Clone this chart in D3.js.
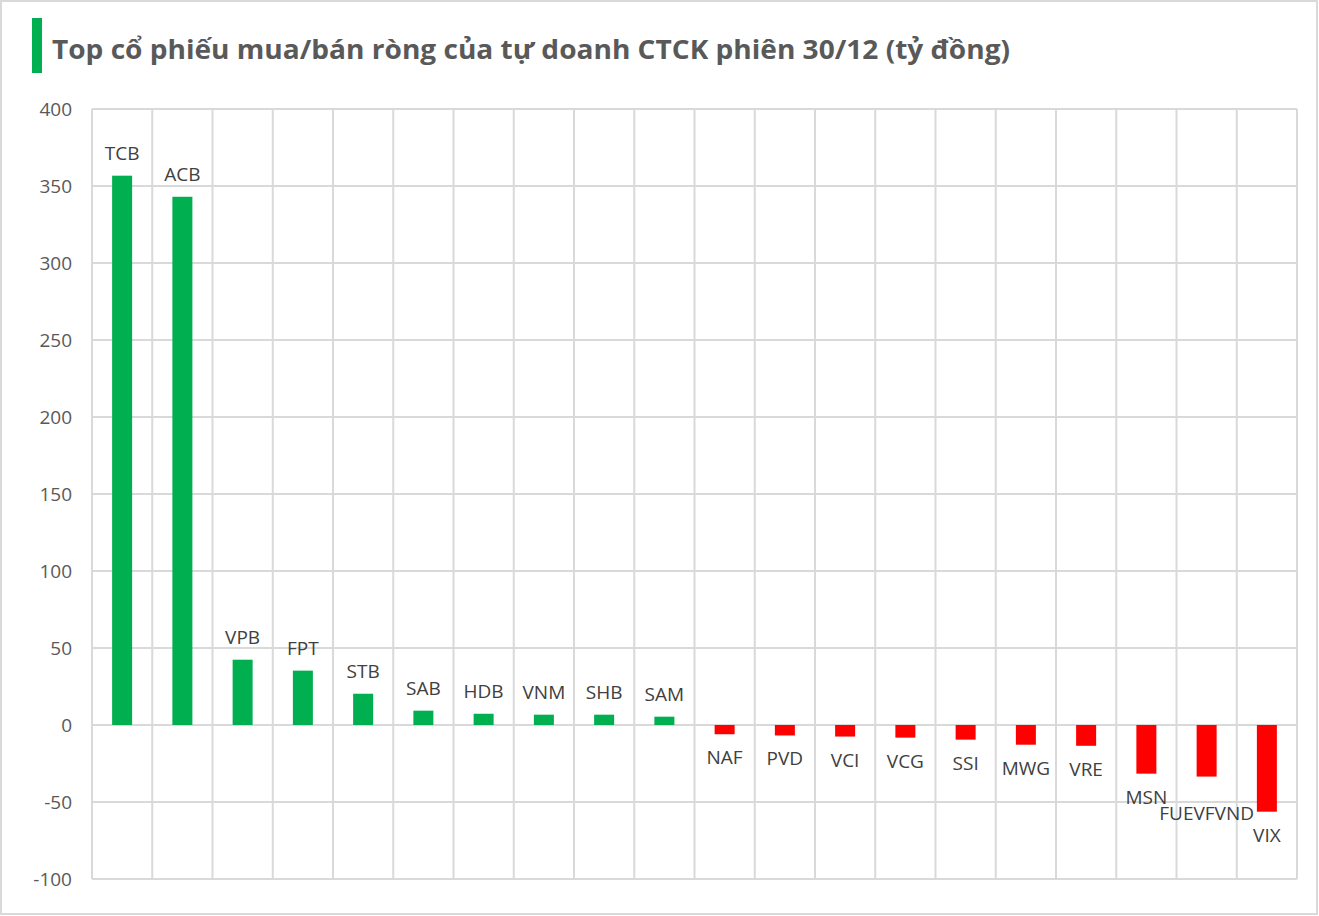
<!DOCTYPE html>
<html>
<head>
<meta charset="utf-8">
<script src="https://cdn.jsdelivr.net/npm/d3@7"></script>
<style>
  html, body { margin: 0; padding: 0; background: #fff; }
  svg { display: block; }
</style>
</head>
<body>
<div class="svg-container"></div>
<script>
const tickers = ["TCB", "ACB", "VPB", "FPT", "STB", "SAB", "HDB", "VNM", "SHB", "SAM",
                 "NAF", "PVD", "VCI", "VCG", "SSI", "MWG", "VRE", "MSN", "FUEVFVND", "VIX"];
const netValues = [356.7, 343, 42.4, 35.3, 20.3, 9.3, 7.3, 6.7, 6.7, 5.4,
                   -6, -6.8, -7.5, -8.2, -9.5, -12.8, -13.5, -31.6, -33.5, -56.3];
const yTicks = [-100, -50, 0, 50, 100, 150, 200, 250, 300, 350, 400];
const titleText = "Top cổ phiếu mua/bán ròng của tự doanh CTCK phiên 30/12 (tỷ đồng)";

function drawChart() {
    const width = 1319;
    const height = 916;
    // plot area
    const left = 92, right = 1297, top = 109, bottom = 879;

    const data = tickers.map((t, i) => ({ name: t, value: netValues[i] }));

    const svg = d3.select(".svg-container").append("svg")
        .attr("width", width)
        .attr("height", height)
        .style("font-family", "'Open Sans', 'Noto Sans', sans-serif");

    // outer frame
    svg.append("rect")
        .attr("x", 1).attr("y", 1)
        .attr("width", width - 3).attr("height", height - 3)
        .attr("fill", "#fff")
        .attr("stroke", "#d9d9d9")
        .attr("stroke-width", 2);

    // title with green marker
    svg.append("rect")
        .attr("x", 32).attr("y", 18)
        .attr("width", 10).attr("height", 55)
        .attr("fill", "#00b050");
    svg.append("text")
        .attr("x", 52).attr("y", 59)
        .attr("fill", "#595959")
        .attr("font-size", 27)
        .attr("font-weight", "bold")
        .attr("textLength", 958)
        .attr("lengthAdjust", "spacingAndGlyphs")
        .text(titleText);

    const xScale = d3.scaleBand()
        .domain(tickers)
        .range([left, right])
        .paddingInner(0)
        .paddingOuter(0);
    const yScale = d3.scaleLinear().domain([-100, 400]).range([bottom, top]);

    // horizontal gridlines
    svg.append("g")
        .selectAll("line")
        .data(yTicks)
        .enter()
        .append("line")
        .attr("x1", left).attr("x2", right)
        .attr("y1", d => yScale(d)).attr("y2", d => yScale(d))
        .attr("stroke", "#d9d9d9")
        .attr("stroke-width", 2);

    // vertical gridlines at category boundaries
    const bounds = tickers.map(t => xScale(t)).concat([right]);
    svg.append("g")
        .selectAll("line")
        .data(bounds)
        .enter()
        .append("line")
        .attr("x1", d => d).attr("x2", d => d)
        .attr("y1", top).attr("y2", bottom)
        .attr("stroke", "#d9d9d9")
        .attr("stroke-width", 2);

    // y axis labels (plain hyphen minus like the original)
    const yAxis = svg.append("g")
        .attr("transform", "translate(" + left + ",0)")
        .call(d3.axisLeft(yScale).tickValues(yTicks).tickSize(0).tickPadding(20)
            .tickFormat(d => String(d)));
    yAxis.select(".domain").remove();
    yAxis.selectAll("text")
        .attr("font-size", 19)
        .attr("fill", "#595959")
        .style("font-family", "'Open Sans', 'Noto Sans', sans-serif");

    const barW = 20;

    // bars
    svg.append("g")
        .selectAll(".bar")
        .data(data)
        .enter()
        .append("rect")
        .classed("bar", true)
        .attr("x", d => xScale(d.name) + xScale.bandwidth() / 2 - barW / 2)
        .attr("width", barW)
        .attr("y", d => yScale(Math.max(0, d.value)))
        .attr("height", d => Math.abs(yScale(d.value) - yScale(0)))
        .attr("fill", d => d.value >= 0 ? "#00b050" : "#ff0000");

    // category name labels
    const labels = svg.append("g")
        .selectAll("text")
        .data(data)
        .enter()
        .append("text")
        .attr("x", d => xScale(d.name) + xScale.bandwidth() / 2)
        .attr("y", d => d.value >= 0 ? yScale(d.value) - 16 : yScale(d.value) + 30)
        .attr("text-anchor", "middle")
        .attr("font-size", 19)
        .attr("fill", "#404040")
        .text(d => d.name);

    // push a label down when its glyphs run into the one before it
    // (boxes trimmed to roughly the cap height, so small bbox overlaps are allowed)
    const inset = 5;
    const nodes = labels.nodes();
    for (let i = 1; i < nodes.length; i++) {
        const a = nodes[i - 1].getBBox();
        const b = nodes[i].getBBox();
        const overlapX = a.x + a.width > b.x && b.x + b.width > a.x;
        const aBot = a.y + a.height - inset, bTop = b.y + inset;
        const overlapY = aBot > bTop && b.y + b.height - inset > a.y + inset;
        if (overlapX && overlapY && data[i].value < 0) {
            nodes[i].setAttribute("y", +nodes[i].getAttribute("y") + (aBot - bTop));
        }
    }
}

drawChart();
</script>
</body>
</html>
